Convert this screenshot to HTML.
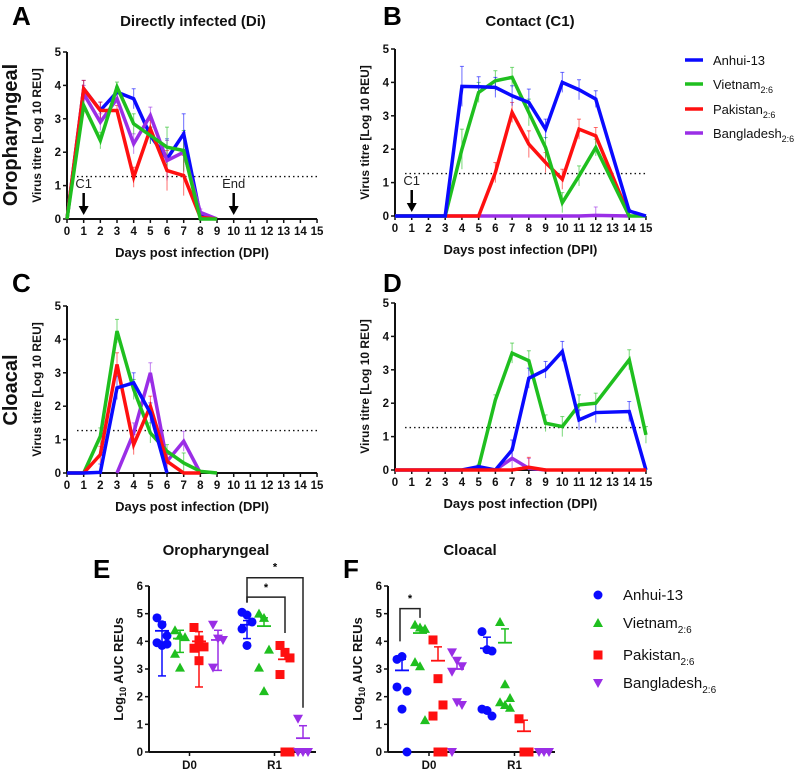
<!DOCTYPE html>
<html><head><meta charset="utf-8">
<style>
html,body{margin:0;padding:0;background:#fff;}
svg{display:block;font-family:"Liberation Sans",Arial,sans-serif;}
.tk{font-size:11.5px;font-weight:bold;fill:#111;}
.ttl{font-size:15px;font-weight:bold;fill:#111;}
.ax{font-size:13px;font-weight:bold;fill:#111;}
.lab{font-size:26px;font-weight:bold;fill:#000;}
</style></head>
<body>
<svg id="fig" width="800" height="772" viewBox="0 0 800 772"></svg>
<script>
const days=[0,1,2,3,4,5,6,7,8,9,10,11,12,13,14,15];
const strains=['Anhui-13','Vietnam','Pakistan','Bangladesh'];
const colors=['#0a0aff','#1fbf1f','#ff1010','#9a2ee6'];
// Panel A oropharyngeal Di
const aBlue=[0,3.9,3.25,3.8,3.6,2.5,1.8,2.55,0.1,0];
const aGreen=[0,3.4,2.35,3.95,2.85,2.5,2.15,2.05,0,0];
const aRed=[0,3.9,3.25,3.25,1.25,2.7,1.45,1.3,0.05,0];
const aPurple=[0,3.75,2.9,3.6,2.25,3.1,1.75,2.0,0.2,0];
const aErr=[0,0.25,0.25,0.15,0.3,0.25,0.6,0.6,0.1,0];
// Panel B oropharyngeal C1
const bBlue=[0,0,0,0,3.88,3.87,3.85,3.6,3.4,2.6,4.0,3.78,3.5,null,0.15,0];
const bGreen=[0,0,0,0,2.0,3.7,4.05,4.15,3.1,2.05,0.4,1.2,2.05,null,0,0];
const bRed=[0,0,0,0,0,0,1.3,3.1,2.15,1.6,1.1,2.6,2.4,null,0,null];
const bPurple=[0,0,0,0,0,0,0,0,0,0,0,0,0.02,null,0,null];
const bErr=[0,0,0,0,0.6,0.3,0.3,0.3,0.4,0.3,0.3,0.3,0.25,0,0.05,0];
// Panel C cloacal Di
const cBlue=[0,0,0.02,2.55,2.7,1.8,0];
const cGreen=[0,0,1.1,4.25,2.5,1.2,0.65,0.3,0.05,0];
const cRed=[0,0,0.55,3.25,0.85,2.0,0.35,0,0];
const cPurple=[null,null,null,0,1.2,3.0,0.35,0.95,0];
const cErr=[0,0,0.25,0.35,0.3,0.3,0.2,0.3,0,0];
// Panel D cloacal C1
const dBlue=[0,0,0,0,0,0.1,0,0.6,2.75,3.0,3.55,1.5,1.72,null,1.75,0];
const dGreen=[null,null,null,null,null,0.1,2.1,3.5,3.27,1.4,1.3,1.95,2.0,null,3.3,1.05];
const dRed=[0,0,0,0,0,0,0,0,0.08,0,0,0,0,null,0,0];
const dPurple=[null,null,null,null,null,null,0,0.35,0.05,0,null,null,null,null,null,null];
const dErr=[0,0,0,0,0,0.05,0.15,0.3,0.3,0.25,0.3,0.3,0.3,0,0.3,0.25];
const yTicks=[0,1,2,3,4,5];
const limitOfDetection=1.27;
// Panel E / F scatter (AUC)
const eD0=[[4.85,4.6,4.2,3.95,3.85,3.9],[4.4,4.2,4.15,3.55,3.05],[4.5,4.05,3.8,3.75,3.3],[4.6,4.1,4.05,3.05]];
const eR1=[[5.05,4.95,4.7,4.45,3.85],[5.0,4.85,3.7,3.05,2.2],[3.85,3.6,3.4,2.8,0,0],[1.2,0,0,0]];
const eMeanD0=[4.38,4.1,4.0,4.05], eHiD0=[4.7,4.4,4.35,4.4], eLoD0=[2.75,3.6,2.35,2.95];
const eMeanR1=[4.6,4.55,3.35,0.5], eHiR1=[4.75,4.85,3.65,0.95], eLoR1=[4.1,4.55,3.35,0.5];
const fD0=[[3.35,3.45,2.2,2.35,1.55,0],[4.6,4.5,4.45,3.25,3.1,1.15],[4.05,2.65,1.7,1.3,0,0],[3.6,3.3,3.1,2.9,1.8,1.7,0]];
const fR1=[[4.35,3.7,3.65,1.55,1.5,1.3],[4.7,2.45,1.95,1.8,1.7,1.6],[1.2,0,0],[0,0,0]];
const fMeanD0=[2.95,4.3,3.3,3.0], fHiD0=[3.35,4.5,3.8,3.4];
const fMeanR1=[3.75,3.95,0.75,0], fHiR1=[4.15,4.45,1.15,0];
const aucTicks=[0,1,2,3,4,5,6];

const svg=document.getElementById('fig');
const NS='http://www.w3.org/2000/svg';
function mk(tag,attrs,parent,name){const e=document.createElementNS(NS,tag);for(const k in attrs)e.setAttribute(k,attrs[k]);(parent||svg).appendChild(e);


return e;}
function txt(s,x,y,cls,parent,name,anchor,extra){const t=mk('text',Object.assign({x:x,y:y,'class':cls,'text-anchor':anchor||'middle'},extra||{}),parent,name);t.textContent=s;return t;}

function linePanel(id,x0,dx,y0,dy,series,errs,opts){
  const g=mk('g',{},svg,id);
  const X=d=>x0+d*dx, Y=v=>y0-v*dy;
  mk('line',{x1:X(0),x2:X(15),y1:y0,y2:y0,stroke:'#111','stroke-width':2},g,'x-axis');
  mk('line',{x1:x0,x2:x0,y1:Y(5),y2:y0,stroke:'#111','stroke-width':2},g,'y-axis');
  days.forEach(d=>{mk('line',{x1:X(d),x2:X(d),y1:y0,y2:y0+4,stroke:'#111','stroke-width':1.5},g,'x-tick');
    txt(String(d),X(d),y0+16,'tk',g,'x-tick-label');});
  yTicks.forEach(v=>{mk('line',{x1:x0-4,x2:x0,y1:Y(v),y2:Y(v),stroke:'#111','stroke-width':1.5},g,'y-tick');
    txt(String(v),x0-6,Y(v)+4,'tk',g,'y-tick-label','end');});
  mk('line',{x1:X(0.6),x2:X(15),y1:Y(limitOfDetection),y2:Y(limitOfDetection),stroke:'#111','stroke-width':1.3,'stroke-dasharray':'1.5,3'},g,'detection-limit-line');
  txt('Days post infection (DPI)',X(7.5),y0+38,'ax',g,'x-axis-title');
  const yt=txt('Virus titre [Log 10 REU]',0,0,'ax',g,'y-axis-title','middle',{transform:`translate(${x0-26},${(Y(5)+y0)/2}) rotate(-90)`});
  yt.style.fontSize='12px';
  const order=opts.order||[0,1,2,3];
  order.forEach(i=>{const vals=series[i];
    vals.forEach((v,d)=>{if(v===null||!errs[d]||v===0)return;
      const e=errs[d];
      mk('line',{x1:X(d),x2:X(d),y1:Y(Math.max(0,v-e)),y2:Y(Math.min(5,v+e)),stroke:colors[i],'stroke-width':1,opacity:0.6},g,'error-bar');
      mk('line',{x1:X(d)-2,x2:X(d)+2,y1:Y(Math.min(5,v+e)),y2:Y(Math.min(5,v+e)),stroke:colors[i],'stroke-width':1,opacity:0.6},g,'error-cap');});
  });
  order.forEach(i=>{const vals=series[i];let pts=[];
    vals.forEach((v,d)=>{if(v!==null)pts.push(X(d)+','+Y(v));});
    mk('polyline',{points:pts.join(' '),fill:'none',stroke:colors[i],'stroke-width':3.5,'stroke-linejoin':'miter'},g,'series-line-'+strains[i].toLowerCase());
  });
  (opts.arrows||[]).forEach(a=>{
    mk('line',{x1:X(a.d),x2:X(a.d),y1:y0-26,y2:y0-12,stroke:'#000','stroke-width':2.5},g,'arrow-shaft');
    mk('polygon',{points:`${X(a.d)-5},${y0-13} ${X(a.d)+5},${y0-13} ${X(a.d)},${y0-4}`,fill:'#000'},g,'arrow-head');
    txt(a.t,X(a.d),y0-31,'',g,'arrow-label').setAttribute('style','font-size:13px;fill:#222');
  });
}
linePanel('panel-a',67,16.67,219,33.4,[aBlue,aGreen,aRed,aPurple],aErr,{order:[0,3,2,1],arrows:[{d:1,t:'C1'},{d:10,t:'End'}]});
linePanel('panel-b',395,16.73,216,33.4,[bBlue,bGreen,bRed,bPurple],bErr,{order:[3,2,1,0],arrows:[{d:1,t:'C1'}]});
linePanel('panel-c',67,16.67,473,33.4,[cBlue,cGreen,cRed,cPurple],cErr,{order:[3,1,2,0]});
linePanel('panel-d',395,16.73,470,33.4,[dBlue,dGreen,dRed,dPurple],dErr,{order:[3,1,0,2]});

txt('A',12,25,'lab',svg,'panel-label-a','start');
txt('B',383,25,'lab',svg,'panel-label-b','start');
txt('C',12,292,'lab',svg,'panel-label-c','start');
txt('D',383,292,'lab',svg,'panel-label-d','start');
txt('Directly infected (Di)',193,26,'ttl',svg,'panel-a-title');
txt('Contact (C1)',530,26,'ttl',svg,'panel-b-title');
txt('Oropharyngeal',0,0,'ttl',svg,'row-label-oropharyngeal','middle',{transform:'translate(17,135) rotate(-90)'}).style.fontSize='20px';
txt('Cloacal',0,0,'ttl',svg,'row-label-cloacal','middle',{transform:'translate(17,390) rotate(-90)'}).style.fontSize='20px';

// line legend
const lg=mk('g',{},svg,'line-legend');
const legY=[60,84,109,133];
strains.forEach((s,i)=>{
  mk('line',{x1:685,x2:703,y1:legY[i],y2:legY[i],stroke:colors[i],'stroke-width':3.5},lg,'legend-swatch');
  const t=txt(s,713,legY[i]+5,'',lg,'legend-entry','start');t.setAttribute('style','font-size:13px;fill:#111');
  if(i>0){const ts=mk('tspan',{dy:4,style:'font-size:9px'},t,'legend-subscript');ts.textContent='2:6';}
});

// scatter panels
function marker(g,i,x,y){const c=colors[i];
  if(i===0)return mk('circle',{cx:x,cy:y,r:4.5,fill:c},g,'point-anhui');
  if(i===1)return mk('polygon',{points:`${x},${y-5} ${x-5},${y+4} ${x+5},${y+4}`,fill:c},g,'point-vietnam');
  if(i===2)return mk('rect',{x:x-4.5,y:y-4.5,width:9,height:9,fill:c},g,'point-pakistan');
  return mk('polygon',{points:`${x-5},${y-4} ${x+5},${y-4} ${x},${y+5}`,fill:c},g,'point-bangladesh');}
function scatterPanel(id,x0,xEnd,y0,y6,grpX,data,means,his,los){
  const g=mk('g',{},svg,id);
  const dy=(y0-y6)/6, Y=v=>y0-v*dy;
  mk('line',{x1:x0,x2:xEnd,y1:y0,y2:y0,stroke:'#111','stroke-width':2},g,'x-axis');
  mk('line',{x1:x0,x2:x0,y1:y6,y2:y0,stroke:'#111','stroke-width':2},g,'y-axis');
  aucTicks.forEach(v=>{mk('line',{x1:x0-4,x2:x0,y1:Y(v),y2:Y(v),stroke:'#111','stroke-width':1.5},g,'y-tick');
    txt(String(v),x0-6,Y(v)+4,'tk',g,'y-tick-label','end');});
  const yl=txt('Log',0,0,'ax',g,'y-axis-title','middle',{transform:`translate(${x0-26},${(y0+y6)/2}) rotate(-90)`});
  const s1=mk('tspan',{dy:3,style:'font-size:9px'},yl,'y-title-subscript');s1.textContent='10';
  const s2=mk('tspan',{dy:-3},yl,'y-title-rest');s2.textContent='  AUC REUs';
  ['D0','R1'].forEach((lab,gi)=>{
    const cx=(grpX[gi][1]+grpX[gi][2])/2;
    mk('line',{x1:cx,x2:cx,y1:y0,y2:y0+4,stroke:'#111','stroke-width':1.5},g,'x-tick');
    txt(lab,cx,y0+17,'tk',g,'x-tick-label');
    data[gi].forEach((arr,i)=>{const xc=grpX[gi][i];
      arr.forEach((v,k)=>{marker(g,i,xc+((k%3)-1)*5,Y(v));});
      const c=colors[i];
      mk('line',{x1:xc-7,x2:xc+7,y1:Y(means[gi][i]),y2:Y(means[gi][i]),stroke:c,'stroke-width':1.8},g,'mean-line');
      mk('line',{x1:xc,x2:xc,y1:Y(los[gi][i]),y2:Y(his[gi][i]),stroke:c,'stroke-width':1.5},g,'error-bar');
      mk('line',{x1:xc-4,x2:xc+4,y1:Y(his[gi][i]),y2:Y(his[gi][i]),stroke:c,'stroke-width':1.5},g,'error-cap');
      if(los[gi][i]<means[gi][i])mk('line',{x1:xc-4,x2:xc+4,y1:Y(los[gi][i]),y2:Y(los[gi][i]),stroke:c,'stroke-width':1.5},g,'error-cap');
    });
  });
  return {g:g,Y:Y};
}
const E=scatterPanel('panel-e',149,316,752,586,[[162,180,199,218],[247,264,285,303]],[eD0,eR1],[eMeanD0,eMeanR1],[eHiD0,eHiR1],[eLoD0,eLoR1]);
function bracket(p,xa,xb,ya,yb,yTop,starY,name){
  mk('polyline',{points:`${xa},${p.Y(ya)} ${xa},${p.Y(yTop)} ${xb},${p.Y(yTop)} ${xb},${p.Y(yb)}`,fill:'none',stroke:'#222','stroke-width':1.5},p.g,name);
  txt('*',(xa+xb)/2,p.Y(starY)+5,'',p.g,'significance-star').setAttribute('style','font-size:11px;font-weight:bold');
}
bracket(E,247,285,5.4,4.3,5.6,6.0,'significance-bracket');
bracket(E,247,303,5.4,1.6,6.3,6.75,'significance-bracket');
const F=scatterPanel('panel-f',388,555,752,586,[[402,420,438,457],[487,505,524,544]],[fD0,fR1],[fMeanD0,fMeanR1],[fHiD0,fHiR1],[fMeanD0,fMeanR1]);
bracket(F,400,420,4.0,4.85,5.18,5.6,'significance-bracket');
txt('E',93,578,'lab',svg,'panel-label-e','start');
txt('F',343,578,'lab',svg,'panel-label-f','start');
txt('Oropharyngeal',216,555,'ttl',svg,'panel-e-title');
txt('Cloacal',470,555,'ttl',svg,'panel-f-title');
// scatter legend
const sl=mk('g',{},svg,'scatter-legend');
const sY=[595,623,655,683];
strains.forEach((s,i)=>{
  marker(sl,i,598,sY[i]);
  const t=txt(s,623,sY[i]+5,'',sl,'legend-entry','start');t.setAttribute('style','font-size:15px;fill:#111');
  if(i>0){const ts=mk('tspan',{dy:5,style:'font-size:10px'},t,'legend-subscript');ts.textContent='2:6';}
});
</script>
</body></html>
